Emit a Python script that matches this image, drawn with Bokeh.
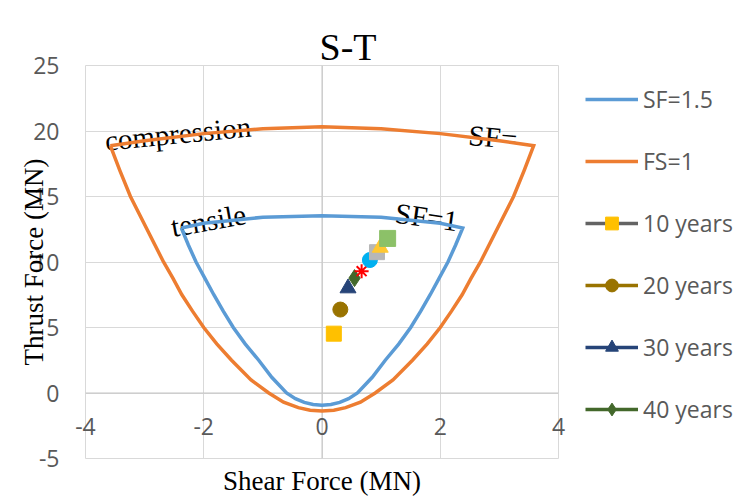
from bokeh.plotting import figure
from bokeh.layouts import row
from bokeh.models import FixedTicker, Legend, LegendItem, Span, Range1d
from bokeh.core.properties import value
from bokeh.embed import file_html
from bokeh.resources import INLINE

# ---- data ----
X_TICKS = [-4, -2, 0, 2, 4]
Y_TICKS = [-5, 0, 5, 10, 15, 20, 25]

# FS=1 envelope (closed path)
FS1_X = [-3.58, -3.0, -2.0, -1.0, 0.0, 1.0, 2.0, 3.0, 3.58,
         3.42, 3.24, 2.96, 2.68, 2.52, 2.37, 2.19, 2.0, 1.78, 1.53, 1.2, 0.9, 0.65, 0.4, 0.2, 0.0,
         -0.2, -0.4, -0.65, -0.9, -1.2, -1.53, -1.78, -2.0, -2.19, -2.37, -2.52, -2.68, -2.96, -3.24, -3.42, -3.58]
FS1_Y = [18.88, 19.25, 19.8, 20.18, 20.33, 20.18, 19.8, 19.25, 18.88,
         17.0, 15.0, 12.5, 10.0, 8.75, 7.5, 6.25, 5.0, 3.75, 2.5, 1.0, 0.0, -0.7, -1.12, -1.31, -1.37,
         -1.31, -1.12, -0.7, 0.0, 1.0, 2.5, 3.75, 5.0, 6.25, 7.5, 8.75, 10.0, 12.5, 15.0, 17.0, 18.88]

# SF=1.5 envelope (closed path)
SF15_X = [-2.38, -2.0, -1.0, 0.0, 1.0, 2.0, 2.38,
          2.26, 2.13, 1.98, 1.83, 1.67, 1.5, 1.3, 1.07, 0.85, 0.6, 0.45, 0.3, 0.15, 0.0,
          -0.15, -0.3, -0.45, -0.6, -0.85, -1.07, -1.3, -1.5, -1.67, -1.83, -1.98, -2.13, -2.26, -2.38]
SF15_Y = [12.6, 12.95, 13.42, 13.54, 13.42, 12.95, 12.6,
          11.3, 10.0, 8.75, 7.5, 6.25, 5.0, 3.75, 2.5, 1.2, 0.0, -0.43, -0.72, -0.88, -0.94,
          -0.88, -0.72, -0.43, 0.0, 1.2, 2.5, 3.75, 5.0, 6.25, 7.5, 8.75, 10.0, 11.3, 12.6]

# yearly (shear, thrust) points
YEARS = ["10 years", "20 years", "30 years", "40 years", "50 years",
         "60 years", "70 years", "80 years", "90 years"]
SHEAR = [0.2, 0.31, 0.44, 0.55, 0.67, 0.81, 0.93, 0.985, 1.11]
THRUST = [4.53, 6.37, 8.0, 8.77, 9.3, 10.15, 10.75, 11.1, 11.8]

# in-plot annotation texts
LABEL_TEXT = ["compression", "tensile", "SF=", "SF=1"]
LABEL_X = [-3.67, -2.55, 2.48, 1.24]
LABEL_Y = [19.26, 12.65, 19.7, 13.77]
LABEL_ANGLE = [5.6, 10.3, -5.0, -8.0]

# ---- styles ----
SANS = "Open Sans"
SERIF = "Liberation Serif"
GRAY_TXT = "#595959"
GRID = "#d9d9d9"
BLUE = "#5b9bd5"
ORANGE = "#ed7d31"

MARKERS = ["square", "circle", "triangle", "diamond", "asterisk",
           "circle", "square", "triangle", "square"]
FILLS = ["#ffc000", "#997300", "#264478", "#43682b", "#ff0000",
         "#00b0f0", "#b7b7b7", "#ffc832", "#8cc168"]
SIZES = [15, 15, 16, 17, 14, 15, 15, 16, 16]
LINE_COLS = ["#636363", "#997300", "#264478", "#43682b", "#ff0000",
             "#00b0f0", "#b7b7b7", "#ffc832", "#8cc168"]
N_LEGEND_YEARS = 4   # the reference legend only has room for the first four years


def add_year(fig, i):
    rl = fig.line([SHEAR[i]], [THRUST[i]], line_color=LINE_COLS[i], line_width=3.5)
    if MARKERS[i] == "asterisk":
        rs = fig.scatter([SHEAR[i]], [THRUST[i]], marker="asterisk", size=SIZES[i],
                         line_color=FILLS[i], line_width=2)
    else:
        rs = fig.scatter([SHEAR[i]], [THRUST[i]], marker=MARKERS[i], size=SIZES[i],
                         fill_color=FILLS[i], line_color=FILLS[i])
    return rl, rs


def hyphen_labels(ticks):
    return {t: str(t) for t in ticks}


# ================= main chart =================
p = figure(width=578, height=499, x_range=Range1d(-4, 4), y_range=Range1d(-5, 25),
           output_backend="svg", toolbar_location=None, title="S-T",
           min_border_left=85, min_border_top=65, min_border_right=20, min_border_bottom=41)
p.background_fill_color = "white"
p.border_fill_color = "white"
p.outline_line_color = GRID

p.title.text_font = SERIF
p.title.text_font_size = "38px"
p.title.text_font_style = "normal"
p.title.text_color = "black"
p.title.align = "left"
p.title.offset = 234
p.title.standoff = -4

p.xgrid.ticker = FixedTicker(ticks=X_TICKS)
p.ygrid.ticker = FixedTicker(ticks=Y_TICKS)
p.xgrid.grid_line_color = GRID
p.ygrid.grid_line_color = GRID

xa = p.xaxis[0]
xa.ticker = FixedTicker(ticks=X_TICKS)
xa.major_label_overrides = hyphen_labels(X_TICKS)
xa.axis_label = "Shear Force (MN)"
xa.axis_label_text_font = SERIF
xa.axis_label_text_font_size = "27px"
xa.axis_label_text_font_style = "normal"
xa.axis_label_text_color = "black"
xa.axis_label_standoff = 28
xa.axis_line_color = None
xa.major_tick_line_color = None
xa.minor_tick_line_color = None
xa.major_tick_out = 0
xa.major_label_standoff = -41
xa.major_label_text_font = SANS
xa.major_label_text_font_size = "23px"
xa.major_label_text_color = GRAY_TXT

ya = p.yaxis[0]
ya.ticker = FixedTicker(ticks=Y_TICKS)
ya.major_label_overrides = hyphen_labels(Y_TICKS)
ya.axis_label = "Thrust Force (MN)"
ya.axis_label_text_font = SERIF
ya.axis_label_text_font_size = "27px"
ya.axis_label_text_font_style = "normal"
ya.axis_label_text_color = "black"
ya.axis_label_standoff = -19
ya.axis_line_color = None
ya.major_tick_line_color = None
ya.minor_tick_line_color = None
ya.major_tick_out = 0
ya.major_label_standoff = 26
ya.major_label_text_font = SANS
ya.major_label_text_font_size = "23px"
ya.major_label_text_color = GRAY_TXT

# axis lines through the origin
p.add_layout(Span(location=0, dimension="height", line_color="#c4c4c4", line_width=1, level="underlay"))
p.add_layout(Span(location=0, dimension="width", line_color="#c4c4c4", line_width=1, level="underlay"))

# in-plot texts (drawn first so the envelopes overlap them)
p.text(x=LABEL_X, y=LABEL_Y, text=LABEL_TEXT, angle=LABEL_ANGLE, angle_units="deg",
       text_font=value(SERIF), text_font_size="29px", text_color="black",
       text_align="left", text_baseline="alphabetic")

p.line(SF15_X, SF15_Y, line_color=BLUE, line_width=3.5, line_join="miter")
p.line(FS1_X, FS1_Y, line_color=ORANGE, line_width=3.5, line_join="miter")
for i in range(len(YEARS)):
    add_year(p, i)

# ================= legend panel =================
lf = figure(width=160, height=480, x_range=Range1d(100, 101), y_range=Range1d(100, 101),
            output_backend="svg", toolbar_location=None,
            x_axis_location=None, y_axis_location=None, min_border=0)
lf.grid.visible = False
lf.outline_line_color = None
lf.background_fill_color = "white"
lf.border_fill_color = "white"

l_sf15 = lf.line(SF15_X, SF15_Y, line_color=BLUE, line_width=3.5)
l_fs1 = lf.line(FS1_X, FS1_Y, line_color=ORANGE, line_width=3.5)
items = [LegendItem(label="SF=1.5", renderers=[l_sf15]),
         LegendItem(label="FS=1", renderers=[l_fs1])]
for i in range(N_LEGEND_YEARS):
    rl, rs = add_year(lf, i)
    items.append(LegendItem(label=YEARS[i], renderers=[rl, rs]))

legend = Legend(items=items, location=(7, 14), margin=0, padding=0, ncols=1,
                glyph_width=53, glyph_height=32, label_height=32, spacing=30,
                label_standoff=5, label_text_font=SANS, label_text_font_size="23px",
                label_text_color=GRAY_TXT, border_line_color=None, background_fill_alpha=0)
lf.add_layout(legend)

layout = row(p, lf)
open("out.html", "w").write(file_html(layout, INLINE))
